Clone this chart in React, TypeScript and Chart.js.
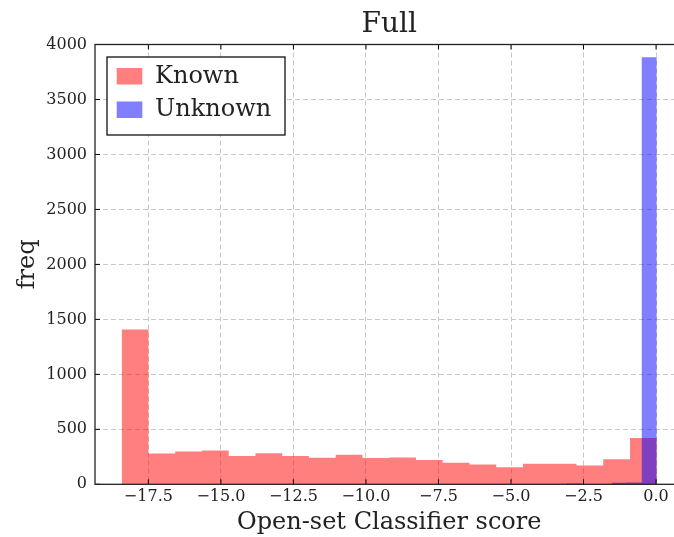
import React, { useEffect, useRef } from "react";
import { Chart, registerables } from "chart.js";

Chart.register(...registerables);

// ---- data ----
const seriesLabels = ["Known", "Unknown"];
const knownEdges = [
  -18.42, -17.498, -16.576, -15.653, -14.731, -13.809, -12.887, -11.965, -11.042, -10.12,
  -9.198, -8.276, -7.354, -6.431, -5.509, -4.587, -3.665, -2.743, -1.82, -0.898, 0.024,
];
const knownCounts = [1408, 281, 298, 308, 258, 283, 257, 241, 269, 240, 244, 222, 197, 179, 155, 188, 187, 170, 228, 420];
const unknownEdges = [
  -10.316, -9.799, -9.282, -8.765, -8.248, -7.731, -7.214, -6.697, -6.18, -5.663,
  -5.146, -4.629, -4.112, -3.595, -3.078, -2.561, -2.044, -1.527, -1.01, -0.493, 0.024,
];
const unknownCounts = [0, 0, 0, 0, 0, 0, 0, 0, 0, 0, 0, 0, 0, 0, 7, 1, 0, 14, 16, 3885];
const xTicks = [-17.5, -15, -12.5, -10, -7.5, -5, -2.5, 0];
const yTicks = [0, 500, 1000, 1500, 2000, 2500, 3000, 3500, 4000];
const xRange = [-19.34, 0.946];
const yRange = [0, 4000];
const titleText = "Full";
const xLabel = "Open-set Classifier score";
const yLabel = "freq";

const SERIF = "'DejaVu Serif', 'Liberation Serif', serif";
const GRID = "#c8c8c8";
const TEXT = "#222";

const fmtX = (v: number) => Number(v).toFixed(1).replace("-", "\u2212");

const framePlugin = {
  id: "frameTicks",
  afterDatasetsDraw(chart: any) {
    const { ctx, chartArea: a, scales } = chart;
    ctx.save();
    ctx.strokeStyle = "#000";
    ctx.lineWidth = 1;
    ctx.beginPath();
    for (const v of xTicks) {
      const px = scales.x.getPixelForValue(v);
      ctx.moveTo(px, a.bottom);
      ctx.lineTo(px, a.bottom - 5);
      ctx.moveTo(px, a.top);
      ctx.lineTo(px, a.top + 5);
    }
    for (const v of yTicks) {
      const py = scales.y.getPixelForValue(v);
      ctx.moveTo(a.left, py);
      ctx.lineTo(a.left + 5, py);
      ctx.moveTo(a.right, py);
      ctx.lineTo(a.right - 5, py);
    }
    ctx.stroke();
    ctx.strokeStyle = "#222";
    ctx.lineWidth = 1.3;
    ctx.strokeRect(a.left, a.top, a.right - a.left, a.bottom - a.top);
    ctx.restore();
  },
};

const legendPlugin = {
  id: "boxLegend",
  afterDraw(chart: any) {
    const { ctx, chartArea: a } = chart;
    const x0 = a.left + 12;
    const y0 = a.top + 12.5;
    const w = 178;
    const h = 78;
    ctx.save();
    ctx.fillStyle = "#fff";
    ctx.fillRect(x0, y0, w, h);
    ctx.strokeStyle = "#111";
    ctx.lineWidth = 1.3;
    ctx.strokeRect(x0, y0, w, h);
    ctx.font = `normal 24px ${SERIF}`;
    ctx.textBaseline = "middle";
    ctx.textAlign = "left";
    chart.data.datasets.forEach((ds: any, i: number) => {
      const py = y0 + 11 + i * 33.5;
      ctx.fillStyle = ds.backgroundColor;
      ctx.fillRect(x0 + 9.7, py, 25.6, 16.5);
      ctx.fillStyle = TEXT;
      ctx.fillText(ds.label, x0 + 48, py + 8.5);
    });
    ctx.restore();
  },
};

export default function App() {
  const ref = useRef<HTMLCanvasElement>(null);
  useEffect(() => {
    const canvas = ref.current!;
    const knownPoints = knownEdges.map((e, i) => ({ x: e, y: i < knownCounts.length ? knownCounts[i] : 0 }));
    const unknownPoints = unknownEdges.map((e, i) => ({ x: e, y: i < unknownCounts.length ? unknownCounts[i] : 0 }));
    const tickFont = { family: SERIF, size: 16, weight: "normal" as const };
    const labelFont = { family: SERIF, size: 24, weight: "normal" as const };
    const chart = new Chart(canvas, {
      type: "line",
      data: {
        datasets: [
          {
            label: seriesLabels[0],
            data: knownPoints,
            stepped: "before",
            fill: "origin",
            backgroundColor: "rgba(255,0,0,0.5)",
            borderColor: "rgba(0,0,0,0)",
            borderWidth: 0,
            pointRadius: 0,
            order: 2,
          },
          {
            label: seriesLabels[1],
            data: unknownPoints,
            stepped: "before",
            fill: "origin",
            backgroundColor: "rgba(0,0,255,0.5)",
            borderColor: "rgba(0,0,0,0)",
            borderWidth: 0,
            pointRadius: 0,
            order: 1,
          },
        ],
      } as any,
      options: {
        animation: false,
        responsive: false,
        devicePixelRatio: 1,
        layout: { padding: { left: 0, right: 16.5, top: 0, bottom: 0 } },
        plugins: {
          legend: { display: false },
          tooltip: { enabled: false },
          title: {
            display: true,
            text: titleText,
            fullSize: false,
            color: TEXT,
            font: { family: SERIF, size: 28, weight: "normal" },
            padding: { top: 8.2, bottom: 2.7 },
          },
        },
        scales: {
          x: {
            type: "linear",
            min: xRange[0],
            max: xRange[1],
            afterBuildTicks: (s: any) => {
              s.ticks = xTicks.map((v) => ({ value: v }));
            },
            afterFit: (s: any) => {
              s.height = 52.7;
            },
            ticks: {
              callback: (v: any) => fmtX(v),
              color: TEXT,
              font: tickFont,
              padding: 3,
              maxRotation: 0,
              autoSkip: false,
            },
            grid: { color: GRID, lineWidth: 1, drawTicks: false },
            border: { display: false, dash: [5, 3] },
            title: {
              display: true,
              text: xLabel,
              color: TEXT,
              font: labelFont,
              padding: { top: 0, bottom: 0 },
            },
          },
          y: {
            type: "linear",
            min: yRange[0],
            max: yRange[1],
            afterBuildTicks: (s: any) => {
              s.ticks = yTicks.map((v) => ({ value: v }));
            },
            afterFit: (s: any) => {
              s.width = 95;
            },
            ticks: {
              callback: (v: any) => String(v),
              color: TEXT,
              font: tickFont,
              padding: 8,
              autoSkip: false,
            },
            grid: { color: GRID, lineWidth: 1, drawTicks: false },
            border: { display: false, dash: [5, 3] },
            title: {
              display: true,
              text: yLabel,
              color: TEXT,
              font: labelFont,
              padding: { top: 13.5, bottom: 0 },
            },
          },
        },
      } as any,
      plugins: [framePlugin, legendPlugin],
    });
    return () => chart.destroy();
  }, []);
  return (
    <div
      style={{
        position: "fixed",
        left: 0,
        top: 0,
        width: 674,
        height: 537,
        overflow: "hidden",
        background: "#fff",
      }}
    >
      <canvas ref={ref} width={700} height={537} style={{ display: "block", width: 700, height: 537 }} />
    </div>
  );
}
